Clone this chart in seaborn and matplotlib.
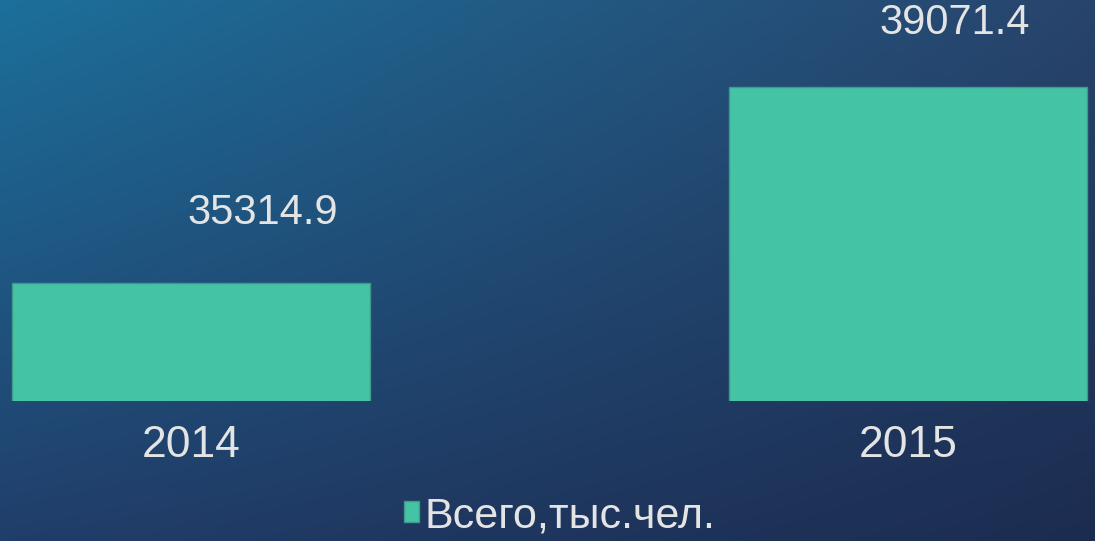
import numpy as np
import pandas as pd
import matplotlib
matplotlib.use('Agg')
import matplotlib.pyplot as plt
import seaborn as sns

# Data
years = ['2014', '2015']
totals = [35314.9, 39071.4]
series_name = 'Всего,тыс.чел.'

bar_color = '#45c3a5'
text_color = '#e4e4e4'

df = pd.DataFrame({'year': years, 'value': totals, 'series': [series_name] * len(years)})

sns.set_style('white')
plt.rcParams['font.family'] = ['Liberation Sans', 'DejaVu Sans']

fig = plt.figure(figsize=(10.95, 5.41), dpi=100)

# gradient background (blue top-left -> dark navy bottom-right)
bg = fig.add_axes([0, 0, 1, 1], zorder=0)
h, w = 200, 400
yy, xx = np.mgrid[0:1:h * 1j, 0:1:w * 1j]
tl = np.array([28, 112, 155]) / 255
tr = np.array([40, 68, 108]) / 255
bl = np.array([33, 62, 106]) / 255
br = np.array([28, 44, 80]) / 255
img = ((1 - xx)[..., None] * (1 - yy)[..., None] * tl + xx[..., None] * (1 - yy)[..., None] * tr
       + (1 - xx)[..., None] * yy[..., None] * bl + xx[..., None] * yy[..., None] * br)
bg.imshow(img, aspect='auto', extent=[0, 1, 0, 1], origin='upper')
bg.set_axis_off()

ax = fig.add_axes([0, 0.2588, 1, 0.7412], zorder=1)
ax.patch.set_alpha(0)
sns.barplot(data=df, x='year', y='value', hue='series', palette=[bar_color], saturation=1,
            width=0.5, dodge=False, edgecolor='#3f9a8a', linewidth=1, ax=ax)
ax.set_xlim(-0.267, 1.261)
ax.set_ylim(33053, 40739)
ax.set_xlabel('')
ax.set_ylabel('')
ax.set_yticks([])
ax.tick_params(axis='x', length=0, pad=17, labelsize=32, labelcolor=text_color)
for s in ax.spines.values():
    s.set_visible(False)

# value labels
offsets = [(0.1, 1350), (0.065, 1230)]
for i, v in enumerate(totals):
    ax.text(i + offsets[i][0], v + offsets[i][1], f'{v:.1f}', ha='center', va='center',
            fontsize=30, color=text_color)

sns.move_legend(ax, 'center', bbox_to_anchor=(0.511, 0.046), bbox_transform=fig.transFigure,
                frameon=False, title=None, fontsize=31, handlelength=0.36, handleheight=0.36,
                handletextpad=0.12, labelcolor=text_color)

fig.savefig('out.png', dpi=100)
